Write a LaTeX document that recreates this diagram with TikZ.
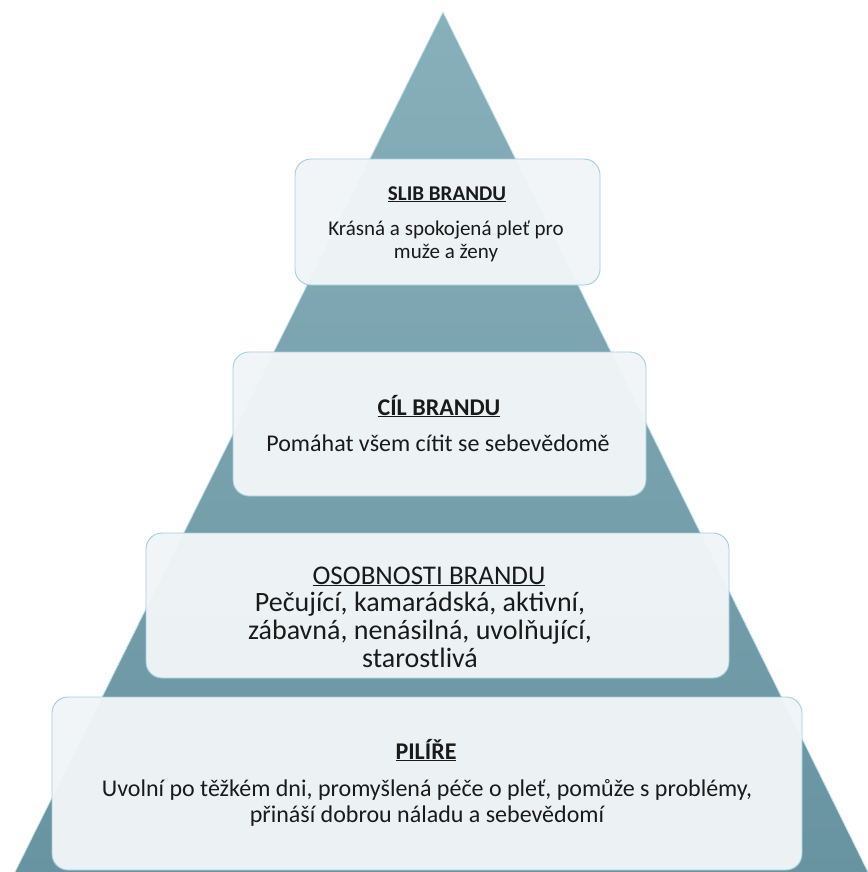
\documentclass[tikz,border=0pt]{standalone}
\usepackage{fontspec}
\setmainfont{Carlito}
\definecolor{tealA}{HTML}{88B0BB}
\definecolor{tealB}{HTML}{6893A0}
\definecolor{edgeblue}{HTML}{C4E2EE}
\definecolor{boxfill}{HTML}{F1F5F7}
\definecolor{boxline}{HTML}{A3CDE0}
\definecolor{ink}{HTML}{1A1A1A}
\tikzset{
  panel/.style={draw=boxline, line width=0.9pt, fill=boxfill, fill opacity=0.97,
    rounded corners=16pt, inner sep=0pt, outer sep=0pt, rectangle},
  txt/.style={text=ink, inner sep=0pt, anchor=base},
}
\newcommand{\ftsz}[1]{\fontsize{#1}{#1}\selectfont}
\begin{document}
\begin{tikzpicture}[x=1pt,y=-1pt]
\useasboundingbox (0,0) rectangle (867,872);
% pyramid
\shade[top color=tealA, bottom color=tealB] (443,12) -- (868,872) -- (15,872) -- cycle;
\draw[edgeblue, line width=0.8pt] (15,872) -- (443,12) -- (868,872);
% boxes
\node[panel, minimum width=305pt, minimum height=126pt] (b1) at (447.5,222) {};
\node[panel, minimum width=413pt, minimum height=144pt] (b2) at (439.5,424) {};
\node[panel, minimum width=583pt, minimum height=145pt] (b3) at (437.5,605.5) {};
\node[panel, minimum width=750pt, minimum height=173pt] (b4) at (427,783.5) {};
% box 1
\node[txt] (t1) at (447,200) {\ftsz{21}\underline{\textbf{SLIB BRANDU}}};
\node[txt] (t1a) at (446,235) {\ftsz{21}Krásná a spokojená pleť pro};
\node[txt] (t1b) at (446,258) {\ftsz{21}muže a ženy};
% box 2
\node[txt] (t2) at (439,415) {\ftsz{24}\underline{\textbf{CÍL BRANDU}}};
\node[txt] (t2a) at (438,451) {\ftsz{24}Pomáhat všem cítit se sebevědomě};
% box 3
\node[txt] (t3) at (429,584) {\ftsz{27}\underline{OSOBNOSTI BRANDU}};
\node[txt] (t3a) at (420,611) {\ftsz{28}Pečující, kamarádská, aktivní,};
\node[txt] (t3b) at (420,639) {\ftsz{28}zábavná, nenásilná, uvolňující,};
\node[txt] (t3c) at (420,667) {\ftsz{28}starostlivá};
% box 4
\node[txt] (t4) at (426,759) {\ftsz{24}\underline{\textbf{PILÍŘE}}};
\node[txt] (t4a) at (427,796) {\ftsz{24}Uvolní po těžkém dni, promyšlená péče o pleť, pomůže s problémy,};
\node[txt] (t4b) at (427,822) {\ftsz{24}přináší dobrou náladu a sebevědomí};
\end{tikzpicture}
\end{document}
